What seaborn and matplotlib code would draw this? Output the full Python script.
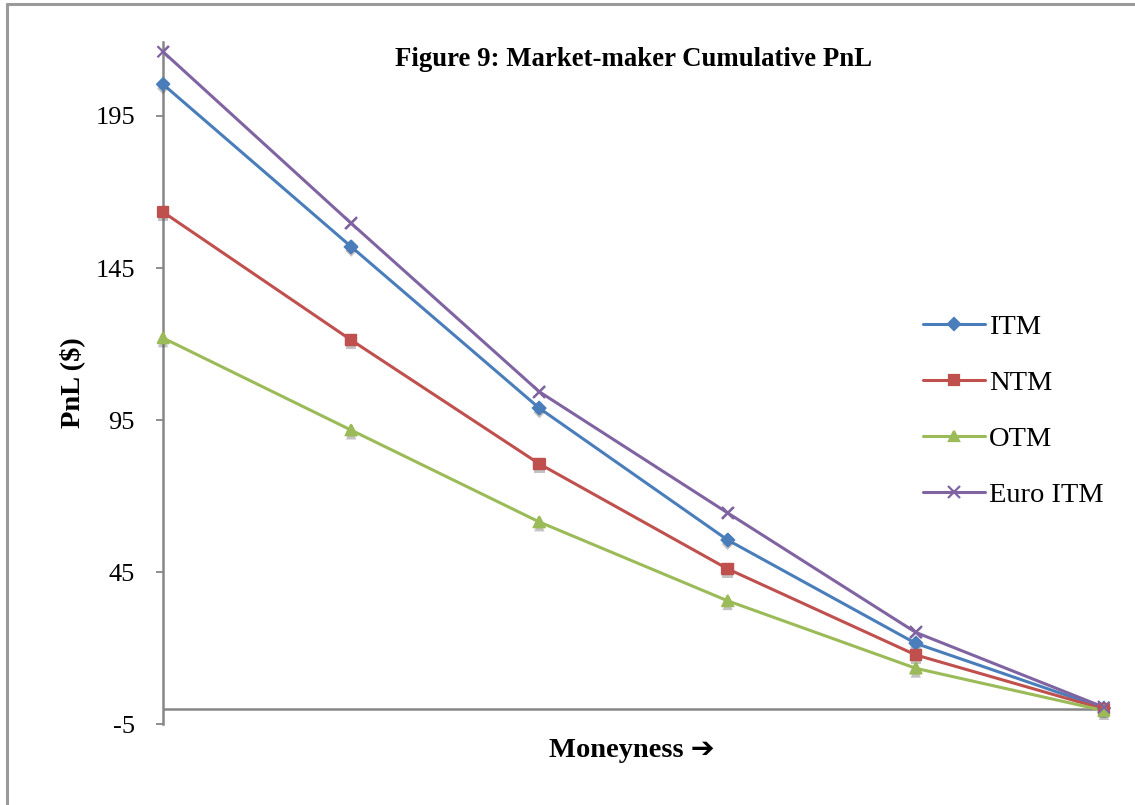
import matplotlib
matplotlib.use("Agg")
import matplotlib.pyplot as plt
import matplotlib.patheffects as pe
from matplotlib.lines import Line2D
import pandas as pd
import seaborn as sns

# Cumulative PnL per moneyness bucket (6 buckets, left = deepest)
buckets = [0, 1, 2, 3, 4, 5]
series_names = ["ITM", "NTM", "OTM", "Euro ITM"]
itm = [205.4, 152.0, 98.9, 55.6, 21.6, 0.3]
ntm = [163.4, 121.3, 80.6, 46.1, 17.8, 0.0]
otm = [122.0, 91.7, 61.5, 35.6, 13.4, -0.5]
euro_itm = [216.1, 159.7, 104.3, 64.5, 25.2, 0.6]
y_ticks = [-5, 45, 95, 145, 195]

colors = {"ITM": "#4A7EBB", "NTM": "#C0504D", "OTM": "#9BBB59", "Euro ITM": "#8064A2"}
markers = {"ITM": "D", "NTM": "s", "OTM": "^", "Euro ITM": "x"}
msizes = {"ITM": 6, "NTM": 7.5, "OTM": 7.5, "Euro ITM": 8}

df = pd.DataFrame({
    "bucket": buckets * 4,
    "pnl": itm + ntm + otm + euro_itm,
    "series": sum([[n] * len(buckets) for n in series_names], []),
})

sns.set_theme(style="white")
plt.rcParams["font.family"] = ["Liberation Serif", "DejaVu Sans"]
plt.rcParams["text.color"] = "black"
plt.rcParams["axes.labelcolor"] = "black"
plt.rcParams["ytick.color"] = "black"
plt.rcParams["axes.unicode_minus"] = False

fig = plt.figure(figsize=(11.35, 8.05), dpi=100)
ax = fig.add_axes([163 / 1135, 1 - 724.3 / 805, (1104 - 163) / 1135, (724.3 - 42) / 805])

shadow = [pe.SimplePatchShadow(offset=(0, -3), shadow_rgbFace="#555555", alpha=0.35), pe.Normal()]
for name in series_names:
    sub = df[df["series"] == name]
    sns.lineplot(data=sub, x="bucket", y="pnl", color=colors[name], lw=2.2,
                 marker=markers[name], markersize=msizes[name],
                 markeredgecolor=colors[name], markeredgewidth=1.6,
                 label=name, ax=ax, zorder=3)
    # markers again on top, with a soft drop shadow
    ax.scatter(sub["bucket"], sub["pnl"], marker=markers[name], s=msizes[name] ** 2,
               color=colors[name], linewidths=1.6, zorder=4,
               path_effects=shadow, clip_on=False)

ax.set_xlim(0, 5)
ax.set_ylim(-5, 219.3)
ax.set_yticks(y_ticks)
ax.set_xticks([])
ax.tick_params(axis="y", direction="out", length=5.2, width=1.3, color="#868686",
               labelcolor="black", labelsize=19, pad=15, left=True)

for side in ["top", "right", "bottom"]:
    ax.spines[side].set_visible(False)
ax.spines["left"].set_color("#868686")
ax.spines["left"].set_linewidth(1.8)
ax.axhline(0, color="#868686", lw=1.8, zorder=1)

ax.set_xlabel("")
ax.set_ylabel("")
fig.text(72 / 1135, 1 - 382.5 / 805, "PnL ($)", rotation=90, ha="center", va="center",
         fontsize=20.5, fontweight="bold")
fig.text(632 / 1135, 1 - 750 / 805, "Moneyness \u2794", ha="center", va="center",
         fontsize=20.5, fontweight="bold")
fig.text(634 / 1135, 1 - 60 / 805, "Figure 9: Market-maker Cumulative PnL",
         ha="center", va="center", fontsize=19.3, fontweight="bold")

handles, labels = ax.get_legend_handles_labels()
ax.legend(handles, labels, loc="upper left", bbox_to_anchor=(912 / 1135, 1 - 303 / 805),
          bbox_transform=fig.transFigure, frameon=False, fontsize=20.5,
          handlelength=2.15, handletextpad=0.15, labelspacing=1.05, borderaxespad=0)

# outer chart frame (left and top edges)
fig.add_artist(Line2D([7 / 1135, 7 / 1135], [0, 1 - 4 / 805], transform=fig.transFigure,
                      color="#9a9a9a", lw=2.2))
fig.add_artist(Line2D([7 / 1135, 1], [1 - 4 / 805, 1 - 4 / 805], transform=fig.transFigure,
                      color="#9a9a9a", lw=2.2))

fig.savefig("out.png", dpi=100)
